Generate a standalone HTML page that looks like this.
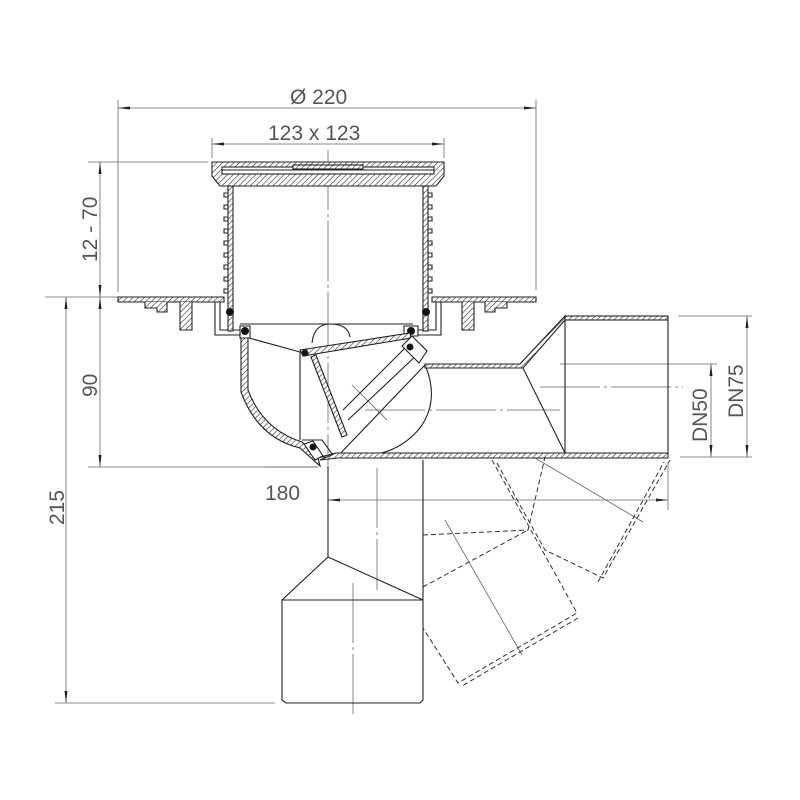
<!DOCTYPE html>
<html><head><style>html,body{margin:0;padding:0;background:#fff}svg{display:block}text{font-family:"Liberation Sans",sans-serif;fill:#555;font-size:21px}</style></head>
<body>
<svg width="800" height="800" viewBox="0 0 800 800" xmlns="http://www.w3.org/2000/svg">
<defs>
<pattern id="h" width="4" height="4" patternUnits="userSpaceOnUse" patternTransform="rotate(45)"><rect width="4" height="4" fill="#fff"/><line x1="0" y1="0" x2="0" y2="4" stroke="#333" stroke-width="1.2"/></pattern>
<marker id="a" markerWidth="12" markerHeight="6" refX="12" refY="3" orient="auto-start-reverse" markerUnits="userSpaceOnUse"><path d="M0,1.5 L12,3 L0,4.5z" fill="#222"/></marker>
</defs>
<g stroke="#666" stroke-width="0.8" fill="none">
<line x1="118" y1="100" x2="118" y2="292"/><line x1="536" y1="100" x2="536" y2="290"/>
<line x1="212" y1="138" x2="212" y2="158"/><line x1="444" y1="138" x2="444" y2="158"/>
<line x1="88" y1="162" x2="208" y2="162"/>
<line x1="45" y1="297" x2="118" y2="297"/>
<line x1="88" y1="467" x2="318" y2="467"/>
<line x1="55" y1="703" x2="275" y2="703"/>
<line x1="678" y1="316" x2="752" y2="316"/><line x1="560" y1="364" x2="717" y2="364"/><line x1="680" y1="457" x2="752" y2="457"/>
<line x1="668" y1="462" x2="668" y2="510"/>
<line x1="118" y1="108" x2="536" y2="108" marker-start="url(#a)" marker-end="url(#a)"/>
<line x1="212" y1="144" x2="444" y2="144" marker-start="url(#a)" marker-end="url(#a)"/>
<line x1="100" y1="162" x2="100" y2="297" marker-start="url(#a)" marker-end="url(#a)"/>
<line x1="100" y1="297" x2="100" y2="467" marker-start="url(#a)" marker-end="url(#a)"/>
<line x1="66" y1="297" x2="66" y2="703" marker-start="url(#a)" marker-end="url(#a)"/>
<line x1="747" y1="316" x2="747" y2="457" marker-start="url(#a)" marker-end="url(#a)"/>
<line x1="711" y1="364" x2="711" y2="457" marker-start="url(#a)" marker-end="url(#a)"/>
<line x1="328" y1="500" x2="668" y2="500" marker-start="url(#a)" marker-end="url(#a)"/>
<line x1="265" y1="467" x2="318" y2="467"/>
<line x1="328" y1="150" x2="328" y2="465" stroke-dasharray="60 4 3 4"/>
<line x1="377" y1="468" x2="377" y2="590" stroke-dasharray="60 4 3 4"/>
<line x1="353" y1="583" x2="353" y2="715" stroke-dasharray="60 4 3 4"/>
<line x1="365" y1="410" x2="560" y2="410" stroke-dasharray="60 4 3 4"/>
<line x1="540" y1="387" x2="683" y2="387" stroke-dasharray="60 4 3 4"/>
<line x1="352" y1="385" x2="387" y2="420"/>
<line x1="530" y1="455" x2="643" y2="522"/>
<line x1="445" y1="520" x2="522" y2="655"/>
</g>
<text x="290" y="104">Ø 220</text>
<text x="268" y="140">123 x 123</text>
<text x="265" y="500">180</text>
<text transform="translate(97,262) rotate(-90)">12 - 70</text>
<text transform="translate(97,397) rotate(-90)">90</text>
<text transform="translate(64,525) rotate(-90)">215</text>
<text transform="translate(707,442) rotate(-90)">DN50</text>
<text transform="translate(743,418) rotate(-90)">DN75</text>
<g stroke="#222" stroke-width="1.1" fill="none">
<!-- grate frame -->
<path d="M212,162 H444 V176 L436,186 H220 L212,176Z" fill="url(#h)"/>
<rect x="222" y="167" width="212" height="7" fill="#fff"/>
<line x1="222" y1="170" x2="434" y2="170"/>
<rect x="293" y="165" width="70" height="4" fill="url(#h)"/>
<!-- body walls -->
<rect x="228" y="186" width="5" height="145" fill="url(#h)"/>
<rect x="423" y="186" width="5" height="145" fill="url(#h)"/>
<path d="M228,193 h-4 v4 h4 M228,205 h-4 v4 h4 M228,217 h-4 v4 h4 M228,229 h-4 v4 h4 M228,241 h-4 v4 h4 M228,253 h-4 v4 h4 M228,265 h-4 v4 h4 M228,277 h-4 v4 h4 M228,289 h-4 v4 h4
M428,193 h4 v4 h-4 M428,205 h4 v4 h-4 M428,217 h4 v4 h-4 M428,229 h4 v4 h-4 M428,241 h4 v4 h-4 M428,253 h4 v4 h-4 M428,265 h4 v4 h-4 M428,277 h4 v4 h-4 M428,289 h4 v4 h-4"/>
<!-- flange -->
<path d="M118,297 H224 V302 H118Z" fill="url(#h)"/>
<path d="M432,297 H536 V302 H432Z" fill="url(#h)"/>
<path d="M145,302 v6 h12 v4 h10 v-10 M180,302 v28 h12 v-28 M462,302 v28 h12 v-28 M485,302 v10 h10 v-4 h12 v-6" fill="url(#h)"/>
<path d="M215,302 v33 h28 v-5 h-10 M220,302 v28 h8" fill="none"/>
<path d="M441,302 v33 h-28 v-5 h10 M436,302 v28 h-8" fill="none"/>
<circle cx="230" cy="312" r="3.5" fill="#111"/><circle cx="426" cy="312" r="3.5" fill="#111"/>
<!-- bowl -->
<line x1="240" y1="324" x2="413" y2="324"/>
<path d="M240,326 H250 V338 H240Z M404,326 H418 V336 H404Z" fill="#fff"/>
<circle cx="245" cy="331" r="3.5" fill="#111"/><circle cx="411" cy="331" r="3.5" fill="#111"/>
<path d="M241,338 V392 Q258,438 300,448 L320,466 L318,458 L302,442 Q263,430 248,390 V338Z" fill="url(#h)"/>
<path d="M249,338 L300,352 V440"/>
<path d="M300,350 L410,333 L411,338 L303,356Z" fill="url(#h)"/>
<path d="M312,343 Q314,324 330,324 Q348,324 350,337"/>
<circle cx="305" cy="353" r="3" fill="#111"/>
<!-- flap -->
<path d="M311,357 l5,-2 l31,80 l-5,2z" fill="url(#h)"/>
<path d="M302,440 H322 L335,458"/>
<path d="M304,444 l9,-3 l10,15 l-8,4z" fill="#fff"/>
<circle cx="313" cy="447" r="3" fill="#111"/>
<!-- arm housing -->
<path d="M343,410 L408,345 M348,420 L420,352 M336,458 L425,365"/>
<path d="M402,346 l10,-10 l15,15 l-8,12z" fill="#fff"/>
<circle cx="410" cy="347" r="3" fill="#111"/>
<path d="M425,365 Q440,400 420,428 Q400,452 370,455"/>
<!-- outlet -->
<path d="M425,364 H520 L565,316 H668 V457 H320 L336,453 H668" />
<path d="M425,364 H520 L565,316 V320 L523,368 H425Z" fill="url(#h)"/>
<rect x="565" y="316" width="103" height="4" fill="url(#h)"/>
<path d="M320,460 L336,453 H668 V458 H338 Z" fill="url(#h)"/>
<path d="M523,368 L565,453 M565,320 V453"/>
<!-- vertical outlet -->
<path d="M328,466 V557 L282,600 V700 L286,703 H420 L423,700 V460"/>
<path d="M328,557 L423,600 M282,600 H423"/>
</g>
<g stroke="#333" stroke-width="1" fill="none" stroke-dasharray="5 3">
<path d="M492,460 L577,613 L458,683 L423,628"/>
<path d="M578,618 L462,686"/>
<path d="M423,535 L528,530 L545,457"/>
<path d="M423,587 L528,530"/>
<path d="M497,463 L520,505 L545,550 L603,578 L670,460"/>
<path d="M598,582 L664,462"/>
</g>
</svg>
</body></html>
